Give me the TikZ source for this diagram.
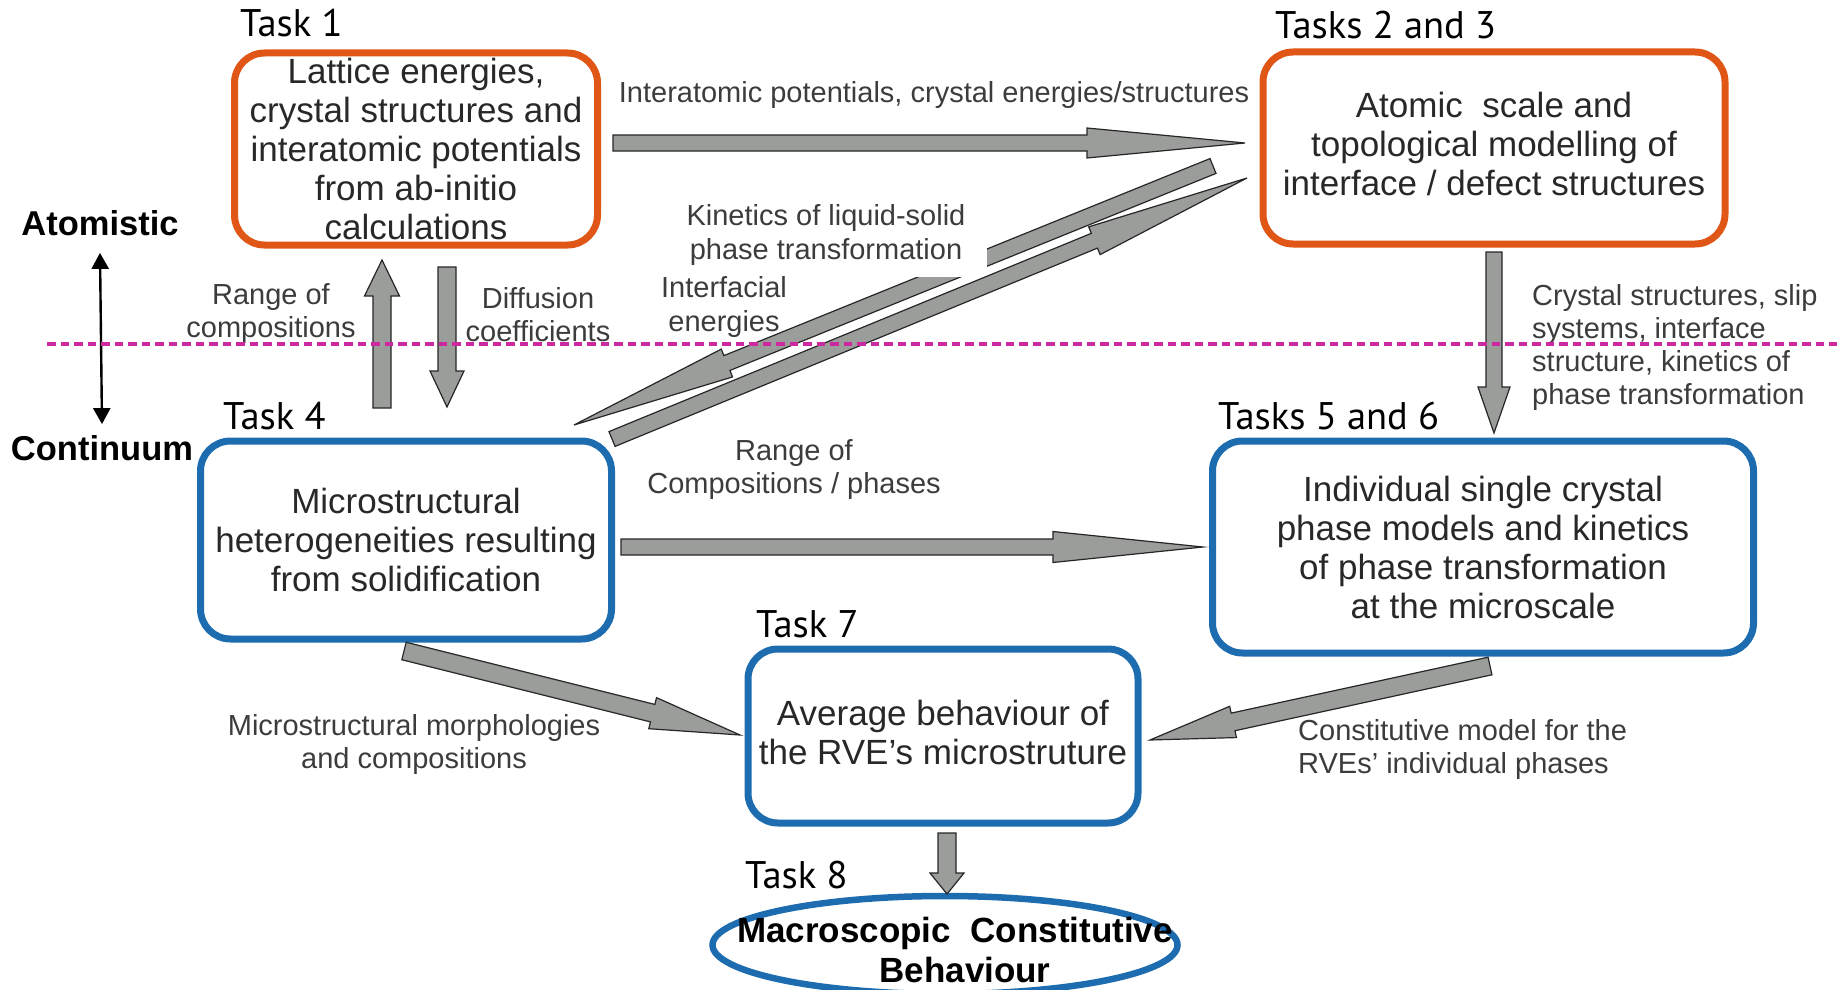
\documentclass[tikz,border=0pt]{standalone}
\usepackage{fontspec}
\setmainfont{Liberation Sans}
\newfontfamily\taskfont{PT Sans}
\usetikzlibrary{calc,shapes.geometric,arrows.meta}
\definecolor{myorange}{RGB}{224,86,22}
\definecolor{myblue}{RGB}{30,108,176}
\definecolor{mymagenta}{RGB}{204,40,160}
\definecolor{arrowgray}{RGB}{155,157,154}
\definecolor{boxtext}{RGB}{40,40,40}
\definecolor{labtext}{RGB}{60,60,60}
\newcommand{\fatarr}[5]{%
  \coordinate (fa-h) at ($(#2)!#5!(#1)$);
  \draw[fat] ($(#1)!#3!90:(#2)$) -- ($(fa-h)!#3!90:(#2)$) -- ($(fa-h)!#4!90:(#2)$) -- (#2)
    -- ($(fa-h)!#4!-90:(#2)$) -- ($(fa-h)!#3!-90:(#2)$) -- ($(#1)!#3!-90:(#2)$) -- cycle;}
\tikzset{
  boxfont/.style={align=center, inner sep=0pt, font=\fontsize{35}{39}\selectfont, text=boxtext},
  taskbox/.style={draw, line width=7pt, rounded corners=30pt, boxfont},
  orangebox/.style={taskbox, draw=myorange},
  bluebox/.style={taskbox, draw=myblue},
  tasklabel/.style={anchor=base west, inner sep=0pt, font=\taskfont\fontsize{38.5}{42}\selectfont},
  elabel/.style={align=center, inner sep=0pt, font=\fontsize{29}{33}\selectfont, text=labtext},
  scalelabel/.style={inner sep=0pt, font=\bfseries\fontsize{34.5}{40}\selectfont},
  fat/.style={fill=arrowgray, draw=black!85, line width=1.2pt, line join=miter},
}
\begin{document}
\begin{tikzpicture}[x=1pt,y=-1pt]
\useasboundingbox (0,0) rectangle (1837,990);

% boxes
\node[orangebox, minimum width=363pt, minimum height=192pt] (t1) at (416,149)
  {Lattice energies,\\crystal structures and\\interatomic potentials\\from ab-initio\\calculations};
\node[orangebox, minimum width=462pt, minimum height=192pt] (t23) at (1494,148) {};
\node[boxfont] (t23text) at (1494,144)
  {Atomic\ \ scale and\\topological modelling of\\interface / defect structures};
\node[bluebox, minimum width=411pt, minimum height=198pt] (t4) at (406,540)
  {Microstructural\\heterogeneities resulting\\from solidification};
\node[bluebox, minimum width=541pt, minimum height=212pt] (t56) at (1483,547)
  {Individual single crystal\\phase models and kinetics\\of phase transformation\\at the microscale};
\node[bluebox, minimum width=390pt, minimum height=174pt] (t7) at (943,736) {};
\node[boxfont] (t7text) at (943,732) {Average behaviour of\\the RVE's microstruture};
\node[ellipse, draw=myblue, line width=6.5pt, minimum width=465pt, minimum height=98pt, inner sep=0pt] (t8) at (945,945) {};
\node[align=center, inner sep=0pt, font=\bfseries\fontsize{35}{40}\selectfont] (t8text) at (955,950)
  {Macroscopic\ \ Constitutive\\\hspace*{20pt}Behaviour};

% task labels
\node[tasklabel] (lt1) at (240,37) {Task 1};
\node[tasklabel] (lt23) at (1275,39) {Tasks 2 and 3};
\node[tasklabel] (lt4) at (223,429) {Task 4};
\node[tasklabel] (lt56) at (1218,429) {Tasks 5 and 6};
\node[tasklabel] (lt7) at (756,637) {Task 7};
\node[tasklabel] (lt8) at (745,888) {Task 8};

% scale labels
\node[scalelabel] (atom) at (100,223) {Atomistic};
\node[scalelabel] (cont) at (102,448) {Continuum};
\coordinate (dA) at ($(atom.south)+(0,17)$);
\coordinate (dB) at ($(cont.north)+(0,-11)$);
\draw[line width=2.4pt, {Stealth[length=16pt,width=17pt,inset=0pt]}-{Stealth[length=16pt,width=17pt,inset=0pt]}] (dA) -- (dB);

% fat arrows
\coordinate (a1s) at (613,143);  \coordinate (a1e) at (1245,143);
\fatarr{a1s}{a1e}{8pt}{15pt}{158pt}
\coordinate (a2s) at (382,408);  \coordinate (a2e) at (382,260);
\fatarr{a2s}{a2e}{9pt}{17.5pt}{36pt}
\coordinate (a3s) at (447,267);  \coordinate (a3e) at (447,407);
\fatarr{a3s}{a3e}{9pt}{17pt}{36pt}
\coordinate (a4s) at (621,547);  \coordinate (a4e) at (1203,547);
\fatarr{a4s}{a4e}{8pt}{15.5pt}{150pt}
\coordinate (a5s) at (1494,252); \coordinate (a5e) at (1494,433);
\fatarr{a5s}{a5e}{8pt}{16pt}{46pt}
\coordinate (a6s) at (1213,166); \coordinate (a6e) at (574,425);
\fatarr{a6s}{a6e}{8pt}{15pt}{165pt}
\node[elabel, fill=white, inner xsep=22pt, inner ysep=12pt] (l2) at (826,235)
  {Kinetics of liquid-solid\\phase transformation};
\coordinate (a7s) at (612,439);  \coordinate (a7e) at (1247,178);
\fatarr{a7s}{a7e}{8pt}{15pt}{165pt}
\coordinate (a8s) at (404,651);  \coordinate (a8e) at (740,735);
\fatarr{a8s}{a8e}{9pt}{16pt}{90pt}
\coordinate (a9s) at (1490,666); \coordinate (a9e) at (1150,740);
\fatarr{a9s}{a9e}{9pt}{16pt}{85pt}
\coordinate (a10s) at (947,833); \coordinate (a10e) at (947,894);
\fatarr{a10s}{a10e}{9pt}{17pt}{21pt}

% edge labels
\node[elabel] (l1) at (934,95) {Interatomic potentials, crystal energies/structures};
\node[elabel] (l3) at (724,307) {Interfacial\\energies};
\node[elabel] (l4) at (271,314) {Range of\\compositions};
\node[elabel] (l5) at (538,315) {Diffusion\\coefficients};
\node[elabel, align=left, anchor=west] (l6) at (1532,347)
  {Crystal structures, slip\\systems, interface\\structure, kinetics of\\phase transformation};
\node[elabel] (l7) at (794,470) {Range of\\Compositions / phases};
\node[elabel] (l8) at (414,744) {Microstructural morphologies\\and compositions};
\node[elabel, align=left, anchor=west] (l9) at (1298,749)
  {Constitutive model for the\\RVEs' individual phases};

% atomistic / continuum border
\coordinate (dl1) at (47,344); \coordinate (dl2) at (1837,344);
\draw[mymagenta, line width=3.5pt, dash pattern=on 8.5pt off 5pt] (dl1) -- (dl2);
\end{tikzpicture}
\end{document}
